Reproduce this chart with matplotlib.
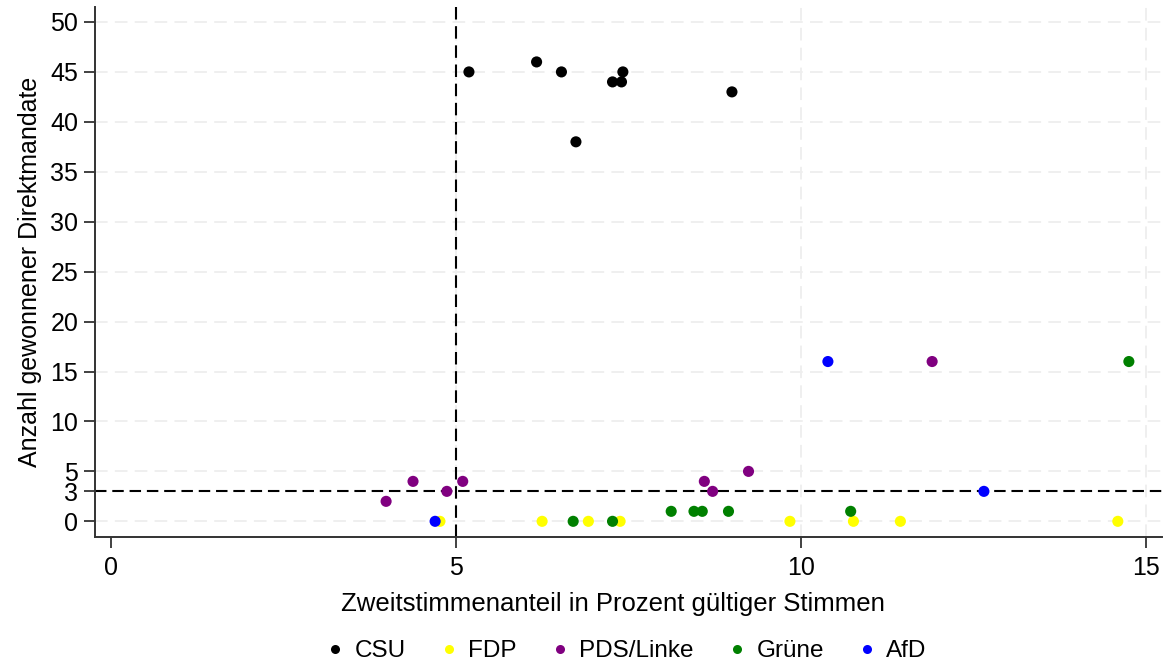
import matplotlib
matplotlib.use("Agg")
import matplotlib.pyplot as plt
from matplotlib.lines import Line2D

plt.rcParams['font.family'] = ['Liberation Sans', 'DejaVu Sans']

# Data (Zweitstimmenanteil %, Direktmandate)
csu_x = [5.19, 6.17, 6.53, 7.27, 7.40, 7.42, 9.00, 6.74]
csu_y = [45, 46, 45, 44, 44, 45, 43, 38]
fdp_x = [4.77, 6.25, 6.92, 7.38, 9.84, 10.76, 11.44, 14.59]
fdp_y = [0, 0, 0, 0, 0, 0, 0, 0]
pds_x = [3.99, 4.38, 4.87, 5.10, 8.60, 8.72, 9.24, 11.90]
pds_y = [2, 4, 3, 4, 4, 3, 5, 16]
gruene_x = [6.70, 7.27, 8.12, 8.45, 8.57, 8.95, 10.72, 14.75]
gruene_y = [0, 0, 1, 1, 1, 1, 1, 16]
afd_x = [4.70, 12.65, 10.39]
afd_y = [0, 3, 16]

parties = ["CSU", "FDP", "PDS/Linke", "Grüne", "AfD"]
colors = ["#000000", "#FFFF00", "#800080", "#008000", "#0000FF"]
xs = [csu_x, fdp_x, pds_x, gruene_x, afd_x]
ys = [csu_y, fdp_y, pds_y, gruene_y, afd_y]

yticks = [0, 3, 5, 10, 15, 20, 25, 30, 35, 40, 45, 50]
xticks = [0, 5, 10, 15]

fig = plt.figure(figsize=(11.66, 6.66), dpi=100)
ax = fig.add_axes([95/1166, 1 - 537/666, (1162 - 95)/1166, (537 - 7)/666])

grid_c = "#EEEEEE"
for yv in [0, 5, 10, 15, 20, 25, 30, 35, 40, 45, 50]:
    ax.axhline(yv, color=grid_c, lw=1.3, ls=(0, (7, 4)), zorder=0)
for xv in [5, 10, 15]:
    ax.axvline(xv, color=grid_c, lw=1.3, ls=(0, (7, 4)), zorder=0)

ax.axvline(5, color="black", lw=1.5, ls=(0, (6, 3.2)), zorder=1)
ax.axhline(3, color="black", lw=1.5, ls=(0, (5.5, 2.8)), zorder=1)

for x, y, c, lab in zip(xs, ys, colors, parties):
    ax.scatter(x, y, s=64, color=c, edgecolors='none', zorder=3, label=lab)

ax.set_xlim(-0.227, 15.23)
ax.set_ylim(-1.57, 51.5)
ax.set_xticks(xticks)
ax.set_yticks(yticks)
ax.set_xticklabels([str(v) for v in xticks])
ax.set_yticklabels([str(v) for v in yticks])

for s in ["top", "right"]:
    ax.spines[s].set_visible(False)
for s in ["left", "bottom"]:
    ax.spines[s].set_color("#333333")
    ax.spines[s].set_linewidth(1.4)
ax.tick_params(axis='both', which='major', length=8, width=1.3, color="#333333",
               labelsize=18, labelcolor="black", pad=4)
ax.tick_params(axis='x', pad=6)

ax.set_xlabel("Zweitstimmenanteil in Prozent gültiger Stimmen", fontsize=18.5)
ax.set_ylabel("Anzahl gewonnener Direktmandate", fontsize=18)
ax.xaxis.set_label_coords(0.485, -0.104)
ax.yaxis.set_label_coords(-0.050, 0.5)

handles = [Line2D([], [], marker='o', ls='none', color=c, markersize=6.5, markeredgewidth=0)
           for c in colors]
fig.legend(handles, parties, loc='center', bbox_to_anchor=(0.537, 0.0225), ncol=5,
           frameon=False, fontsize=17.5, handletextpad=0.4, columnspacing=1.37,
           handlelength=0.8)

fig.savefig("out.png", dpi=100)
